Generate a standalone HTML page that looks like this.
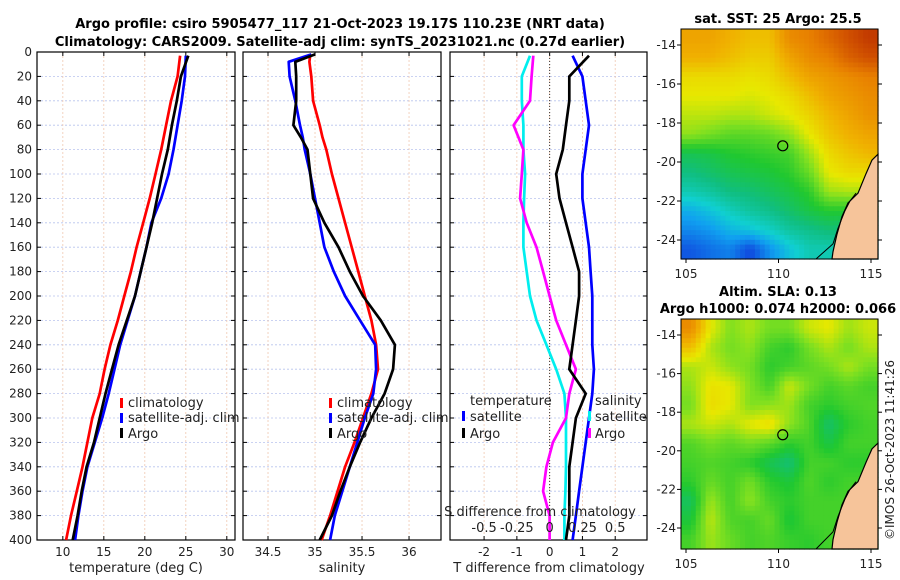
<!DOCTYPE html>
<html><head><meta charset="utf-8"><style>
body{margin:0;background:#fff;}
svg{display:block;font-family:"DejaVu Sans","Liberation Sans",sans-serif;}
</style></head><body>
<svg id="c" width="900" height="580" viewBox="0 0 900 580">
<text x="340" y="28" text-anchor="middle" font-size="13" font-weight="bold">Argo profile: csiro 5905477_117 21-Oct-2023 19.17S 110.23E (NRT data)</text>
<text x="340" y="46" text-anchor="middle" font-size="13" font-weight="bold">Climatology: CARS2009. Satellite-adj clim: synTS_20231021.nc (0.27d earlier)</text>
<text x="778" y="23" text-anchor="middle" font-size="13" font-weight="bold">sat. SST: 25 Argo: 25.5</text>
<text x="778" y="296" text-anchor="middle" font-size="13" font-weight="bold">Altim. SLA: 0.13</text>
<text x="778" y="313" text-anchor="middle" font-size="13" font-weight="bold">Argo h1000: 0.074 h2000: 0.066</text>
<text transform="translate(894,540) rotate(-90)" font-size="12" fill="#222">©IMOS 26-Oct-2023 11:41:26</text>
<g id="g"></g>
</svg>
<script>
// ---- data ----
const depthTicks=[0,20,40,60,80,100,120,140,160,180,200,220,240,260,280,300,320,340,360,380,400];
const tTicks=[10,15,20,25,30];
const sTicks=[34.5,35,35.5,36];
const dTicks=[-2,-1,0,1,2];
const sdTickLabels=["-0.5","-0.25","0","0.25","0.5"];
const sdTickValues=[-0.5,-0.25,0,0.25,0.5];
const depths=[3,20,40,60,80,100,120,140,160,180,200,220,240,260,280,300,320,340,360,380,400];
const tempArgo=[25.3,24.4,23.9,23.3,22.8,22.1,21.5,20.9,20.2,19.5,18.8,17.8,16.8,16.0,15.2,14.5,13.8,12.9,12.3,11.8,11.2];
const tempClim=[24.3,24.0,23.2,22.6,22.0,21.3,20.6,19.8,19.0,18.3,17.5,16.7,15.8,15.1,14.5,13.6,13.0,12.4,11.7,11.0,10.4];
const tempSat=[25.0,24.9,24.5,24.0,23.5,22.9,22.0,20.8,20.2,19.5,18.8,17.9,17.0,16.3,15.6,14.8,13.9,13.0,12.4,11.9,11.5];
const salDepths=[2,8,20,40,60,70,80,100,120,140,160,180,200,220,240,260,280,300,320,340,360,380,400];
const salArgo=[35.0,34.79,34.8,34.8,34.77,34.85,34.92,34.95,34.98,35.1,35.25,35.37,35.51,35.7,35.85,35.83,35.74,35.6,35.48,35.37,35.27,35.18,35.05];
const salClim=[34.95,34.94,34.96,34.98,35.05,35.08,35.12,35.18,35.25,35.32,35.39,35.46,35.53,35.6,35.65,35.67,35.6,35.51,35.42,35.32,35.24,35.16,35.07];
const salSat=[34.96,34.72,34.73,34.79,34.84,34.87,34.89,34.95,35.0,35.05,35.1,35.2,35.32,35.48,35.64,35.65,35.62,35.53,35.45,35.37,35.29,35.21,35.16];
const dT_sat=[0.7,1.0,1.1,1.2,1.1,1.0,1.0,1.1,1.2,1.25,1.3,1.3,1.3,1.35,1.3,1.2,1.1,1.0,0.9,0.8,0.7];
const dT_argo=[1.2,0.6,0.6,0.5,0.4,0.2,0.3,0.5,0.7,0.9,0.9,0.8,0.7,0.6,1.1,0.8,0.7,0.6,0.6,0.6,0.5];
const dS_sat=[-0.6,-0.85,-0.85,-0.8,-0.8,-0.75,-0.78,-0.8,-0.8,-0.7,-0.6,-0.4,-0.1,0.2,0.45,0.5,0.5,0.5,0.48,0.45,0.45];
const dS_argo=[-0.5,-0.55,-0.6,-1.1,-0.8,-0.85,-0.9,-0.7,-0.4,-0.2,0.0,0.2,0.5,0.8,0.6,0.5,0.1,-0.1,-0.2,0.0,0.0];
const mapLon=[105,110,115], mapLat=[-14,-16,-18,-20,-22,-24];
const sstGrid=[
[.72,.72,.70,.68,.68,.76,.78,.82,.86,.90],
[.70,.70,.68,.66,.66,.72,.76,.78,.83,.86],
[.64,.64,.64,.63,.64,.68,.72,.74,.76,.78],
[.62,.62,.62,.61,.62,.64,.68,.72,.74,.76],
[.59,.59,.58,.58,.60,.62,.65,.69,.72,.75],
[.56,.54,.52,.52,.53,.56,.62,.67,.70,.72],
[.44,.45,.47,.48,.49,.50,.57,.64,.67,.69],
[.40,.42,.44,.45,.46,.48,.53,.62,.64,.64],
[.35,.37,.40,.41,.43,.45,.48,.57,.58,.58],
[.27,.30,.34,.37,.39,.42,.45,.47,.47,.47],
[.22,.24,.28,.30,.33,.37,.39,.41,.40,.40],
[.16,.19,.21,.14,.23,.30,.35,.35,.35,.35]];
const slaGrid=[
[.76,.62,.55,.58,.54,.54,.60,.62,.57,.60],
[.68,.58,.54,.56,.50,.48,.54,.58,.54,.58],
[.58,.60,.56,.54,.48,.50,.52,.54,.58,.54],
[.56,.63,.62,.55,.50,.60,.54,.50,.52,.50],
[.54,.64,.62,.55,.56,.57,.50,.48,.50,.51],
[.58,.60,.58,.62,.64,.56,.51,.42,.48,.50],
[.51,.54,.52,.54,.52,.48,.50,.45,.50,.50],
[.50,.51,.50,.48,.44,.41,.50,.50,.48,.48],
[.48,.53,.50,.54,.48,.46,.51,.48,.50,.50],
[.43,.57,.50,.56,.50,.48,.50,.50,.50,.50],
[.46,.59,.51,.50,.53,.46,.50,.50,.50,.50],
[.50,.57,.53,.50,.51,.49,.48,.50,.50,.50]];

// ---- helpers ----
const NS="http://www.w3.org/2000/svg";
const G=document.getElementById('g');
function el(tag,attrs,parent,text){const e=document.createElementNS(NS,tag);for(const k in attrs)e.setAttribute(k,attrs[k]);if(text!==undefined)e.textContent=text;(parent||G).appendChild(e);return e;}
const Y0=52,Y1=540;
const yD=d=>Y0+(d/400)*(Y1-Y0);
const cmStops=[[0,[0,30,190]],[0.15,[16,80,224]],[0.25,[16,160,240]],[0.32,[16,208,208]],[0.4,[16,190,128]],[0.47,[32,200,48]],[0.55,[128,224,32]],[0.62,[232,232,0]],[0.7,[240,176,0]],[0.78,[232,128,0]],[0.86,[208,80,0]],[0.95,[176,32,0]],[1,[150,20,0]]];
function jet(v){v=Math.max(0,Math.min(1,v));
  for(let i=1;i<cmStops.length;i++){if(v<=cmStops[i][0]){const a=cmStops[i-1],b=cmStops[i],t=(v-a[0])/(b[0]-a[0]);
    const c=a[1].map((x,k)=>Math.round(x+(b[1][k]-x)*t));return `rgb(${c[0]},${c[1]},${c[2]})`;}}
  return 'rgb(150,20,0)';}

function panel(name,x0,x1,dmin,dmax,ticks,labels,showY){
  const sx=v=>x0+(v-dmin)/(dmax-dmin)*(x1-x0);
  const p=el('g',{});
  
  
  depthTicks.forEach(d=>{
    const l=el('line',{x1:x0,x2:x1,y1:yD(d),y2:yD(d),stroke:'#b8c4ee','stroke-width':0.8,'stroke-dasharray':'2,2'},p);
    
    
    el('line',{x1:x0,x2:x0+4,y1:yD(d),y2:yD(d),stroke:'#000'},p);
    el('line',{x1:x1,x2:x1-4,y1:yD(d),y2:yD(d),stroke:'#000'},p);
    if(showY){const t=el('text',{x:x0-5,y:yD(d)+4,'text-anchor':'end','font-size':12,fill:'#222'},p,String(d));
      
      }
  });
  ticks.forEach((v,i)=>{
    const l=el('line',{x1:sx(v),x2:sx(v),y1:Y0,y2:Y1,stroke:'#f0c8b0','stroke-width':0.8,'stroke-dasharray':'2,2'},p);
    
    
    el('line',{x1:sx(v),x2:sx(v),y1:Y1,y2:Y1-4,stroke:'#000'},p);
    el('line',{x1:sx(v),x2:sx(v),y1:Y0,y2:Y0+4,stroke:'#000'},p);
    const t=el('text',{x:sx(v),y:556,'text-anchor':'middle','font-size':12,fill:'#222'},p,labels[i]);
    
    
  });
  el('rect',{x:x0,y:Y0,width:x1-x0,height:Y1-Y0,fill:'none',stroke:'#000','stroke-width':1.2},p);
  return sx;
}
function line(name,xs,ds,sx,color,w){
  const pts=xs.map((v,i)=>sx(v).toFixed(1)+','+yD(ds[i]).toFixed(1)).join(' ');
  const l=el('polyline',{points:pts,fill:'none',stroke:color,'stroke-width':w||2.7,'stroke-linejoin':'round'});
  
  
}
function txt(name,x,y,s,opt){const t=el('text',Object.assign({x:x,y:y,'font-size':13,fill:'#222'},opt||{}),G,s);
  
  return t;}
function mark(name,x,y,c){const r=el('rect',{x:x,y:y-10,width:3,height:10,fill:c});
  
  }

// Panel 1 temperature
const sxT=panel('temperature-panel',37,235,6.85,31.0,tTicks,tTicks.map(String),true);
line('temp-climatology-line',tempClim,depths,sxT,'#f00');
line('temp-satellite-line',tempSat,depths,sxT,'#00f');
line('temp-argo-line',tempArgo,depths,sxT,'#000');
txt('temperature-axis-title',136,572,'temperature (deg C)',{'text-anchor':'middle'});
mark('legend-climatology-marker',120,408,'#f00');txt('legend-climatology',128,407,'climatology');
mark('legend-satellite-marker',120,423,'#00f');txt('legend-satellite',128,422,'satellite-adj. clim');
mark('legend-argo-marker',120,438,'#000');txt('legend-argo',128,438,'Argo');

// Panel 2 salinity
const sxS=panel('salinity-panel',243,441,34.234,36.34,sTicks,sTicks.map(String),false);
line('sal-climatology-line',salClim,salDepths,sxS,'#f00');
line('sal-satellite-line',salSat,salDepths,sxS,'#00f');
line('sal-argo-line',salArgo,salDepths,sxS,'#000');
txt('salinity-axis-title',342,572,'salinity',{'text-anchor':'middle'});
mark('legend2-climatology-marker',329,408,'#f00');txt('legend2-climatology',337,407,'climatology');
mark('legend2-satellite-marker',329,423,'#00f');txt('legend2-satellite',337,422,'satellite-adj. clim');
mark('legend2-argo-marker',329,438,'#000');txt('legend2-argo',337,438,'Argo');

// Panel 3 differences
const sxD=panel('difference-panel',450,647,-3.04,2.97,dTicks,dTicks.map(String),false);
const z=el('line',{x1:sxD(0),x2:sxD(0),y1:Y0,y2:Y1,stroke:'#333','stroke-width':1,'stroke-dasharray':'1,2'});


line('s-diff-satellite-line',dS_sat,depths,sxD,'#0ee');
line('s-diff-argo-line',dS_argo,depths,sxD,'#f0f');
line('t-diff-satellite-line',dT_sat,depths,sxD,'#00f');
line('t-diff-argo-line',dT_argo,depths,sxD,'#000');
txt('t-diff-axis-title',549,572,'T difference from climatology',{'text-anchor':'middle'});
txt('s-diff-axis-title',540,516,'S difference from climatology',{'text-anchor':'middle'});
sdTickValues.forEach((v,i)=>{txt('s-diff-tick-label',sxD(v*4),532,sdTickLabels[i],{'text-anchor':'middle'});});
txt('legend3-temperature-title',470,405,'temperature');
mark('legend3-t-satellite-marker',462,421,'#00f');txt('legend3-t-satellite',470,421,'satellite');
mark('legend3-t-argo-marker',462,438,'#000');txt('legend3-t-argo',470,438,'Argo');
txt('legend3-salinity-title',595,405,'salinity');
mark('legend3-s-satellite-marker',588,421,'#0ee');txt('legend3-s-satellite',595,421,'satellite');
mark('legend3-s-argo-marker',588,438,'#f0f');txt('legend3-s-argo',595,438,'Argo');

// Maps
function sample(grid,fr,fc){
  const R=grid.length-1,C=grid[0].length-1;
  fr=Math.max(0,Math.min(R,fr));fc=Math.max(0,Math.min(C,fc));
  const r0=Math.floor(fr),c0=Math.floor(fc),r1=Math.min(R,r0+1),c1=Math.min(C,c0+1),a=fr-r0,b=fc-c0;
  return grid[r0][c0]*(1-a)*(1-b)+grid[r0][c1]*(1-a)*b+grid[r1][c0]*a*(1-b)+grid[r1][c1]*a*b;
}
function map(name,grid,y0,y1,latAt14,latAt24){
  const x0=681,x1=878;
  const lonX=v=>686+(v-105)*(871-686)/10;
  const latY=v=>latAt14+(-14-v)*(latAt24-latAt14)/10;
  const m=el('g',{});
  
  
  const rows=grid.length,cols=grid[0].length,S=4;
  const cw=(x1-x0)/(cols*S),ch=(y1-y0)/(rows*S);
  for(let r=0;r<rows*S;r++)for(let c=0;c<cols*S;c++){
    const v=sample(grid,(r+0.5)/S-0.5,(c+0.5)/S-0.5);
    const cell=el('rect',{x:(x0+c*cw).toFixed(2),y:(y0+r*ch).toFixed(2),width:(cw+0.6).toFixed(2),height:(ch+0.6).toFixed(2),fill:jet(v)},m);
    
    
  }
  const land=el('path',{d:`M878,${latY(-19.6)} L872,${latY(-19.9)} L866,${latY(-20.6)} L858,${latY(-21.6)} L848,${latY(-22.1)} L842,${latY(-22.8)} L837,${latY(-23.7)} L833,${latY(-24.6)} L832,${y1} L878,${y1} Z`,fill:'#f6c49a',stroke:'#000','stroke-width':1.2},m);
  
  
  el('path',{d:`M856,${latY(-21.6)} L850,${latY(-22.0)} L845,${latY(-22.5)} L838,${latY(-23.4)} L833,${latY(-24.2)} L816,${y1}`,fill:'none',stroke:'#000','stroke-width':1},m);
  const pt=el('circle',{cx:lonX(110.23),cy:latY(-19.17),r:5,fill:'none',stroke:'#000','stroke-width':1.2},m);
  
  
  el('rect',{x:x0,y:y0,width:x1-x0,height:y1-y0,fill:'none',stroke:'#000','stroke-width':1},m);
  mapLon.forEach(v=>{el('line',{x1:lonX(v),x2:lonX(v),y1:y1,y2:y1+4,stroke:'#000'},m);
    const t=el('text',{x:lonX(v),y:y1+19,'text-anchor':'middle','font-size':12,fill:'#222'},m,String(v));
    
    });
  mapLat.forEach(v=>{el('line',{x1:x0-4,x2:x0,y1:latY(v),y2:latY(v),stroke:'#000'},m);
    el('line',{x1:x1,x2:x1+4,y1:latY(v),y2:latY(v),stroke:'#000'},m);
    const t=el('text',{x:x0-5,y:latY(v)+4,'text-anchor':'end','font-size':12,fill:'#222'},m,String(v));
    
    });
}
map('sst-map',sstGrid,29,259,45,240);
map('sla-map',slaGrid,319,549,335,528);
</script>
</body></html>
